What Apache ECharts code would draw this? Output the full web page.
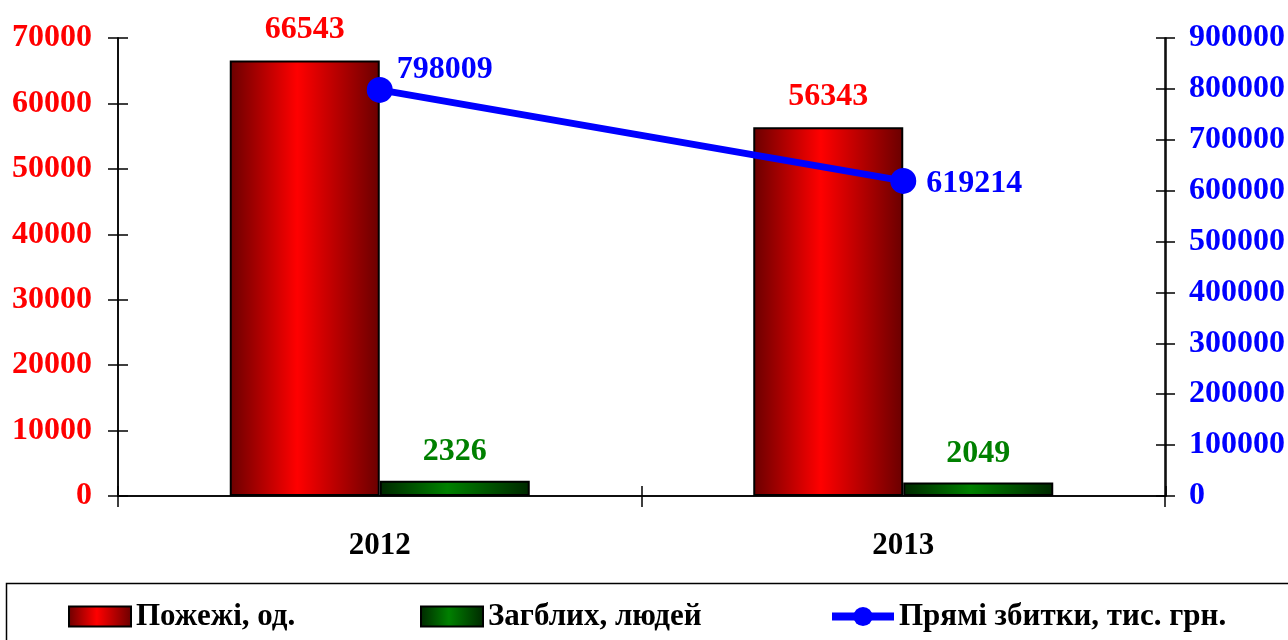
<!DOCTYPE html>
<html lang="uk">
<head>
    <meta charset="UTF-8">
    <title>Пожежі</title>
    <script src="https://cdn.jsdelivr.net/npm/echarts@6/dist/echarts.min.js"></script>
    <style>
        *{
            padding:0;
            margin:0;
        }
        html,body{
            height:100%;
            background:#fff;
        }
        #main{
            width:1288px;
            height:640px;
        }
    </style>
</head>
<body>
<div id="main"></div>
<script>
    // дані
    var years = ['2012', '2013'];
    var fires = [66543, 56343];
    var deaths = [2326, 2049];
    var losses = [798009, 619214];
    var names = ['Пожежі, од.', 'Загблих, людей', 'Прямі збитки, тис. грн.'];

    var font = '"Liberation Serif", "Times New Roman", serif';

    function grad(dark, light){
        return new echarts.graphic.LinearGradient(0, 0, 1, 0, [
            {offset: 0, color: dark},
            {offset: 0.45, color: light},
            {offset: 1, color: dark}
        ]);
    }

    function plain(v){
        return String(v);
    }

    var myChart = echarts.init(document.getElementById('main'));

    var legendText = {
        fontFamily: font,
        fontWeight: 'bold',
        fontSize: 31,
        color: '#000'
    };

    var tickStyle = {color: '#000', width: 1.5};
    var gridBox = {left: 118, right: 122, top: 38, bottom: 144};

    var option = {
        animation: false,
        backgroundColor: '#fff',
        // друга сітка тільки для внутрішніх рисок (хрестоподібні риски)
        grid: [Object.assign({}, gridBox), Object.assign({}, gridBox)],
        legend: [{
            left: 63, top: 596, itemWidth: 62, itemHeight: 20,
            icon: 'rect', data: [names[0]], textStyle: legendText
        }, {
            left: 415, top: 596, itemWidth: 62, itemHeight: 20,
            icon: 'rect', data: [names[1]], textStyle: legendText
        }, {
            left: 823, top: 596, itemWidth: 62, itemHeight: 24,
            data: [names[2]], textStyle: legendText,
            lineStyle: {width: 8}
        }],
        graphic: [{
            type: 'rect',
            left: 4,
            top: 581,
            shape: {width: 1300, height: 80},
            style: {fill: 'none', stroke: '#000', lineWidth: 1.5},
            silent: true
        }],
        xAxis: [{
            type: 'category',
            data: years,
            axisLine: {lineStyle: tickStyle},
            axisTick: {show: true, length: 11, lineStyle: tickStyle},
            axisLabel: {
                margin: 34,
                fontFamily: font,
                fontWeight: 'bold',
                fontSize: 31,
                color: '#000'
            },
            splitLine: {show: false}
        }, {
            type: 'category',
            gridIndex: 1,
            data: years,
            axisLine: {show: true, lineStyle: tickStyle},
            axisTick: {show: true, inside: true, length: 10, lineStyle: tickStyle},
            axisLabel: {show: false}
        }],
        yAxis: [{
            type: 'value',
            min: 0,
            max: 70000,
            interval: 10000,
            position: 'left',
            axisLine: {show: true, lineStyle: tickStyle},
            axisTick: {show: true, length: 10, lineStyle: tickStyle},
            axisLabel: {
                margin: 26,
                formatter: plain,
                fontFamily: font,
                fontWeight: 'bold',
                fontSize: 32,
                color: '#ff0000'
            },
            splitLine: {show: false}
        }, {
            type: 'value',
            min: 0,
            max: 900000,
            interval: 100000,
            position: 'right',
            axisLine: {show: true, lineStyle: tickStyle},
            axisTick: {show: true, length: 10, lineStyle: tickStyle},
            axisLabel: {
                margin: 24,
                formatter: plain,
                fontFamily: font,
                fontWeight: 'bold',
                fontSize: 32,
                color: '#0000ff'
            },
            splitLine: {show: false}
        }, {
            type: 'value',
            gridIndex: 1,
            min: 0,
            max: 70000,
            interval: 10000,
            position: 'left',
            axisLine: {show: true, lineStyle: tickStyle},
            axisTick: {show: true, inside: true, length: 10, lineStyle: tickStyle},
            axisLabel: {show: false},
            splitLine: {show: false}
        }, {
            type: 'value',
            gridIndex: 1,
            min: 0,
            max: 900000,
            interval: 100000,
            position: 'right',
            axisLine: {show: true, lineStyle: tickStyle},
            axisTick: {show: true, inside: true, length: 10, lineStyle: tickStyle},
            axisLabel: {show: false},
            splitLine: {show: false}
        }],
        series: [{
            name: names[0],
            type: 'bar',
            data: fires,
            barWidth: 150,
            barGap: '0%',
            itemStyle: {
                color: grad('#6a0000', '#ff0000'),
                borderColor: '#000',
                borderWidth: 2
            },
            label: {
                show: true,
                position: 'top',
                distance: 15,
                fontFamily: font,
                fontWeight: 'bold',
                fontSize: 32,
                color: '#ff0000'
            }
        }, {
            name: names[1],
            type: 'bar',
            data: deaths,
            barWidth: 150,
            barGap: '0%',
            itemStyle: {
                color: grad('#002800', '#008000'),
                borderColor: '#000',
                borderWidth: 2
            },
            label: {
                show: true,
                position: 'top',
                distance: 13,
                fontFamily: font,
                fontWeight: 'bold',
                fontSize: 32,
                color: '#008000'
            }
        }, {
            name: names[2],
            type: 'line',
            yAxisIndex: 1,
            data: [
                {value: losses[0], label: {position: 'right', offset: [-4, -20]}},
                {value: losses[1], label: {position: 'right', offset: [2, 3]}}
            ],
            symbol: 'circle',
            symbolSize: 26,
            z: 5,
            lineStyle: {color: '#0000ff', width: 7},
            itemStyle: {color: '#0000ff'},
            label: {
                show: true,
                distance: 8,
                fontFamily: font,
                fontWeight: 'bold',
                fontSize: 32,
                color: '#0000ff'
            }
        }]
    };
    myChart.setOption(option);
</script>
</body>
</html>
